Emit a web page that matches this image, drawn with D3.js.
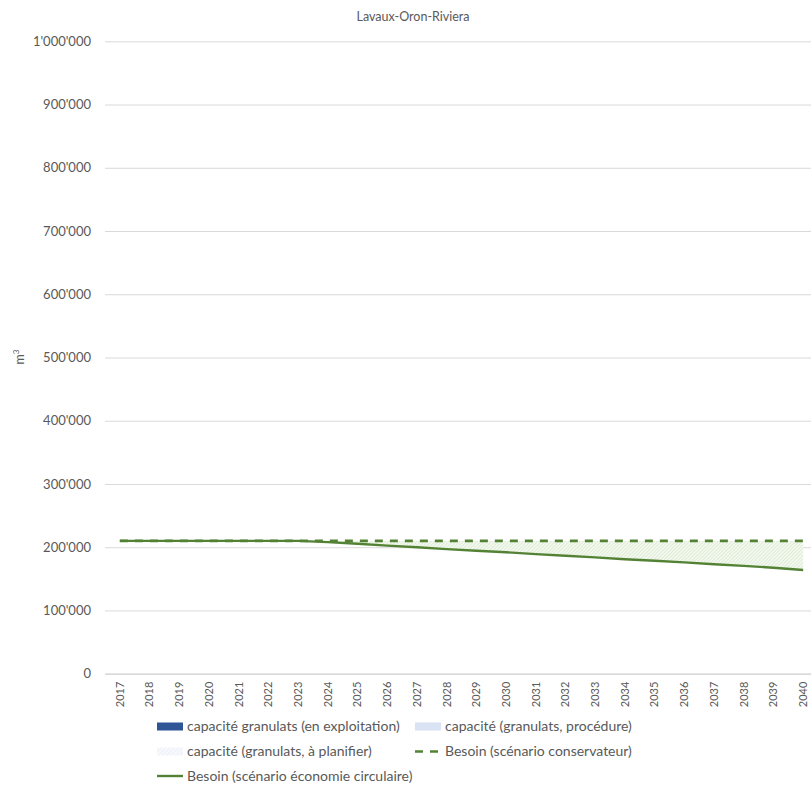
<!DOCTYPE html>
<html><head><meta charset="utf-8">
<script src="https://cdn.jsdelivr.net/npm/d3@7"></script>
<style>
html,body{margin:0;padding:0;background:#fff;}
svg{display:block;font-family:Lato, "Open Sans", sans-serif;}
</style></head>
<body><svg id="c" width="811" height="785"></svg>
<script>
const years = [2017,2018,2019,2020,2021,2022,2023,2024,2025,2026,2027,2028,2029,2030,2031,2032,2033,2034,2035,2036,2037,2038,2039,2040];
const conservateur = [210000,210000,210000,210000,210000,210000,210000,210000,210000,210000,210000,210000,210000,210000,210000,210000,210000,210000,210000,210000,210000,210000,210000,210000];
const circulaire = [210000,210000,210000,210000,210000,210000,210000,208000,205500,202500,200000,197000,194500,192000,189000,186500,184000,181000,178500,176000,173000,170500,167500,164000];
const yTicks = [0,100000,200000,300000,400000,500000,600000,700000,800000,900000,1000000];
const title = "Lavaux-Oron-Riviera";
const legendItems = [
  {name:"capacité granulats (en exploitation)", type:"rect", color:"#2f5597"},
  {name:"capacité (granulats, procédure)", type:"rect", color:"#dae3f3"},
  {name:"capacité (granulats, à planifier)", type:"hatch", color:"#dae3f3"},
  {name:"Besoin (scénario conservateur)", type:"dash", color:"#548235"},
  {name:"Besoin (scénario économie circulaire)", type:"line", color:"#548235"}
];

const svg = d3.select("#c");
const L=105, R=818, T=41.3, B=673.7;
const x = d3.scaleBand().domain(years).range([L,R]).padding(0);
const cx = d => x(d)+x.bandwidth()/2;
const y = d3.scaleLinear().domain([0,1000000]).range([B,T]);
const txt = "#595959";

const defs = svg.append("defs");
const pat = defs.append("pattern").attr("id","hatch").attr("patternUnits","userSpaceOnUse")
  .attr("width",2.5).attr("height",2.5).attr("patternTransform","rotate(45)");
pat.append("rect").attr("width",2.5).attr("height",2.5).attr("fill","#f3f8f0");
pat.append("line").attr("x1",0).attr("y1",0).attr("x2",0).attr("y2",2.5).attr("stroke","#c8e0b8").attr("stroke-width",0.9);
const pat2 = defs.append("pattern").attr("id","hatch2").attr("patternUnits","userSpaceOnUse")
  .attr("width",3).attr("height",3).attr("patternTransform","rotate(45)");
pat2.append("rect").attr("width",3).attr("height",3).attr("fill","#f7f9fd");
pat2.append("line").attr("x1",0).attr("y1",0).attr("x2",0).attr("y2",3).attr("stroke","#dfe6f4").attr("stroke-width",1);

// title
svg.append("text").attr("x",413).attr("y",21).attr("text-anchor","middle")
  .attr("font-size",12.5).attr("fill",txt).text(title);

// y axis + grid
const fmt = v => d3.format(",")(v).replace(/,/g,"'");
const ya = svg.append("g").attr("transform",`translate(${L},0)`)
  .call(d3.axisLeft(y).tickValues(yTicks).tickSize(-(R-L)).tickPadding(14).tickFormat(fmt));
ya.select(".domain").remove();
ya.selectAll(".tick line").attr("stroke","#d9d9d9").attr("stroke-width",1);
ya.selectAll(".tick text").attr("fill",txt).attr("font-size",13).attr("font-family","Lato, sans-serif");

// y label
const yl = svg.append("text").attr("transform","translate(24,357) rotate(-90)")
  .attr("text-anchor","middle").attr("font-size",12.5).attr("fill",txt);
yl.append("tspan").text("m");
yl.append("tspan").attr("dy",-5).attr("font-size",8).text("3");

// x axis
const xa = svg.append("g").attr("transform",`translate(0,${B})`)
  .call(d3.axisBottom(x).tickSize(0).tickPadding(0));
xa.select(".domain").attr("stroke","#d9d9d9").attr("stroke-width",1.5);
xa.selectAll(".tick text").attr("fill",txt).attr("font-size",11).attr("font-family","Lato, sans-serif")
  .attr("transform","rotate(-90)").attr("text-anchor","end").attr("x",-8).attr("y",0).attr("dy","0.35em");

// hatched area between scenarios
const data = years.map((yr,i)=>({yr, c:conservateur[i], e:circulaire[i]}));
svg.append("path").datum(data).attr("fill","url(#hatch)")
  .attr("d", d3.area().x(d=>cx(d.yr)).y0(d=>y(d.e)).y1(d=>y(d.c)));

// lines
svg.append("path").datum(data).attr("fill","none").attr("stroke","#548235").attr("stroke-width",2.6)
  .attr("stroke-dasharray","8,7").attr("d", d3.line().x(d=>cx(d.yr)).y(d=>y(d.c)));
svg.append("path").datum(data).attr("fill","none").attr("stroke","#548235").attr("stroke-width",2.4)
  .attr("d", d3.line().x(d=>cx(d.yr)).y(d=>y(d.e)));

// legend
const pos = [[157,726.5],[415,726.5],[157,751.5],[415,751.5],[157,776]];
legendItems.forEach((it,i)=>{
  const [lx,ly]=pos[i];
  const g = svg.append("g").attr("transform",`translate(${lx},${ly})`);
  if(it.type==="rect") g.append("rect").attr("x",0).attr("y",-4).attr("width",26).attr("height",8).attr("fill",it.color);
  else if(it.type==="hatch") g.append("rect").attr("x",0).attr("y",-4).attr("width",26).attr("height",8).attr("fill","url(#hatch2)");
  else if(it.type==="dash") g.append("line").attr("x1",0).attr("x2",26).attr("stroke",it.color).attr("stroke-width",2.6).attr("stroke-dasharray","8,7");
  else g.append("line").attr("x1",0).attr("x2",26).attr("stroke",it.color).attr("stroke-width",2.4);
  g.append("text").attr("x",30).attr("y",0).attr("dy","0.35em").attr("font-size",14).attr("fill",txt).text(it.name);
});
</script></body></html>
